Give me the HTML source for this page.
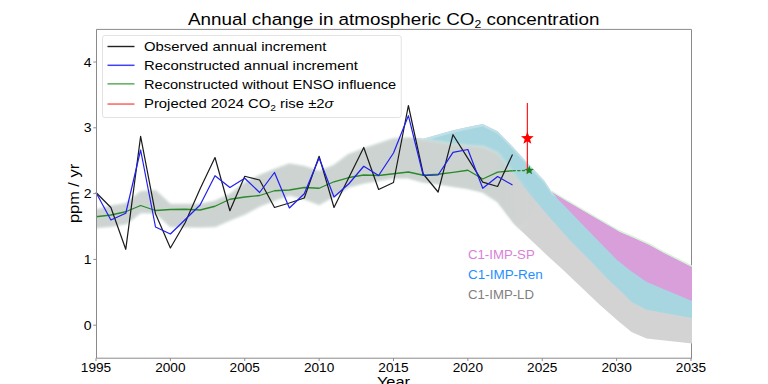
<!DOCTYPE html>
<html><head><meta charset="utf-8"><style>
html,body{margin:0;padding:0;background:#fff;width:768px;height:384px;overflow:hidden}
svg{display:block}
text{font-family:"Liberation Sans", sans-serif;fill:#000}
</style></head><body>
<svg width="768" height="384" viewBox="0 0 768 384">
<defs><linearGradient id="hg" gradientUnits="userSpaceOnUse" x1="495" y1="0" x2="545" y2="0"><stop offset="0" stop-color="#cdd3d1" stop-opacity="1"/><stop offset="1" stop-color="#cdd3d1" stop-opacity="0"/></linearGradient><linearGradient id="hg2" gradientUnits="userSpaceOnUse" x1="490" y1="0" x2="530" y2="0"><stop offset="0" stop-color="#dbe9e4" stop-opacity="1"/><stop offset="1" stop-color="#dbe9e4" stop-opacity="0"/></linearGradient><filter id="soft" x="-5%" y="-20%" width="110%" height="140%"><feGaussianBlur stdDeviation="0.9"/></filter><filter id="soft2" x="-10%" y="-10%" width="120%" height="120%"><feGaussianBlur stdDeviation="0.6"/></filter><clipPath id="axclip2"><rect x="96.6" y="29.3" width="595.4" height="329"/></clipPath><clipPath id="axclip"><rect x="96.6" y="29.3" width="596" height="329"/></clipPath></defs>
<rect x="0" y="0" width="768" height="384" fill="#fff"/>
<line x1="691.5" y1="29.5" x2="691.5" y2="358.5" stroke="#8a8a8a" stroke-width="1"/>
<g>
<g clip-path="url(#axclip2)"><g filter="url(#soft2)"><polygon points="408.38,138.00 423.25,138.75 438.12,134.40 453.00,130.30 467.88,127.00 482.75,124.10 497.62,131.30 512.50,146.50 527.50,163.00 544.20,180.40 551.70,192.00 565.00,200.00 592.00,215.80 620.00,232.00 634.00,238.00 649.50,245.00 664.00,253.00 692.00,267.00 700.00,270.00 700.00,344.40 692.00,343.50 646.50,338.50 631.50,332.00 617.00,320.00 600.00,305.00 561.00,268.00 548.00,256.30 519.30,229.00 514.20,224.00 497.50,201.70 484.00,192.50 467.88,188.50 453.00,186.25 438.12,183.75 423.25,182.00 408.38,178.00" fill="#d3d3d3"/>
<polygon points="408.38,138.00 423.25,138.75 438.12,134.40 453.00,130.30 467.88,127.00 482.75,124.10 497.62,131.30 512.50,146.50 527.50,163.00 544.20,180.40 551.70,192.00 565.00,200.00 592.00,215.80 620.00,232.00 634.00,238.00 649.50,245.00 664.00,253.00 692.00,267.00 700.00,270.00 700.00,319.50 692.00,318.00 646.50,309.75 631.50,302.00 623.75,294.00 608.75,280.00 592.00,262.50 571.25,241.70 552.50,220.80 540.00,206.25 511.00,172.00 467.88,165.00 408.38,178.00" fill="#bfe0e8"/>
<polygon points="408.38,140.50 423.25,141.25 438.12,136.90 453.00,132.80 467.88,129.50 482.75,126.60 497.62,133.80 512.50,149.00 527.50,165.50 544.20,182.90 551.70,194.50 565.00,202.50 592.00,218.30 620.00,234.50 634.00,240.50 649.50,247.50 664.00,255.50 692.00,269.50 700.00,272.50 700.00,319.50 692.00,318.00 646.50,309.75 631.50,302.00 623.75,294.00 608.75,280.00 592.00,262.50 571.25,241.70 552.50,220.80 540.00,206.25 511.00,172.00 467.88,165.00 408.38,178.00" fill="#a8d6e0"/>
<polygon points="551.70,192.00 565.00,200.00 592.00,215.80 620.00,232.00 634.00,238.00 649.50,245.00 664.00,253.00 692.00,267.00 700.00,270.00 700.00,304.40 692.00,301.00 646.70,282.00 631.50,271.50 617.00,260.00 598.00,240.60 578.80,220.80 558.75,200.00 551.70,192.00" fill="#d99fdb"/>
<polyline points="551.70,191.20 565.00,199.20 592.00,215.00 620.00,231.20 634.00,237.20 649.50,244.20 664.00,252.20 692.00,266.20 700.00,269.20" fill="none" stroke="#d6f2d6" stroke-width="1.3"/></g></g>
<g clip-path="url(#axclip)"><g filter="url(#soft)"><polygon points="88,210 96.00,210.00 110.88,206.00 125.75,203.75 140.62,191.75 155.50,190.75 170.38,204.50 185.25,204.50 200.12,204.50 215.00,201.25 229.88,194.50 244.75,183.00 259.62,175.50 274.50,169.50 289.38,164.00 304.25,166.50 319.12,171.50 334.00,165.50 348.88,154.50 363.75,148.75 378.62,143.75 393.50,138.75 408.38,138.00 423.25,140.00 438.12,142.00 453.00,144.50 467.88,146.00 482.75,147.00 497.62,153.50 512.50,172.00 540.00,206.00 519.30,229.00 512.50,221.70 497.62,201.50 482.75,192.00 467.88,188.50 453.00,186.25 438.12,183.75 423.25,182.00 408.38,178.00 393.50,178.00 378.62,180.50 363.75,183.00 348.88,187.00 334.00,196.00 319.12,204.50 304.25,198.75 289.38,195.00 274.50,200.25 259.62,206.00 244.75,214.00 229.88,220.00 215.00,226.50 200.12,227.00 185.25,226.75 170.38,226.50 155.50,213.00 140.62,212.50 125.75,223.75 110.88,226.25 96.00,227.50 88,227.5" fill="url(#hg)" stroke="url(#hg2)" stroke-width="2.2" paint-order="stroke fill" stroke-linejoin="round"/></g></g>
<polyline points="96.00,216.75 110.88,215.00 125.75,211.75 140.62,205.50 155.50,210.50 170.38,209.50 185.25,209.25 200.12,210.00 215.00,206.25 229.88,199.25 244.75,197.00 259.62,195.50 274.50,190.75 289.38,190.00 304.25,187.50 319.12,188.25 334.00,181.75 348.88,177.50 363.75,175.00 378.62,175.50 393.50,173.75 408.38,172.00 423.25,175.25 438.12,174.25 453.00,172.30 467.88,170.25 482.75,179.00 497.62,172.10 512.50,170.75" fill="none" stroke="#2a8a2a" stroke-width="1.3" stroke-linejoin="round"/>
<polyline points="96.00,192.50 110.88,207.50 125.75,249.30 140.62,136.30 155.50,213.80 170.38,248.00 185.25,222.50 200.12,188.75 215.00,157.50 229.88,210.75 244.75,176.25 259.62,180.00 274.50,207.50 289.38,203.00 304.25,198.00 319.12,156.25 334.00,207.50 348.88,177.50 363.75,147.50 378.62,189.50 393.50,182.50 408.38,105.50 423.25,174.00 438.12,192.00 453.00,134.70 467.88,158.40 482.75,182.10 497.62,186.50 512.50,154.40" fill="none" stroke="#1a1a1a" stroke-width="1.2" stroke-linejoin="round"/>
<polyline points="96.00,192.50 110.88,220.00 125.75,213.25 140.62,150.00 155.50,227.00 170.38,234.00 185.25,219.50 200.12,205.00 215.00,175.75 229.88,187.50 244.75,178.25 259.62,192.50 274.50,172.50 289.38,208.00 304.25,193.75 319.12,158.00 334.00,197.00 348.88,183.75 363.75,166.25 378.62,175.50 393.50,153.00 408.38,115.70 423.25,175.50 438.12,175.00 453.00,152.30 467.88,149.50 482.75,188.30 497.62,176.50 512.50,185.00" fill="none" stroke="#1f1ff0" stroke-width="1.2" stroke-linejoin="round"/>
<line x1="512.50" y1="170.75" x2="525.6" y2="170.5" stroke="#2a8a2a" stroke-width="1.3" stroke-dasharray="3.3,1.4"/>
<line x1="527.38" y1="103" x2="527.38" y2="173.2" stroke="#ff1a1a" stroke-width="1.2"/>
<polygon points="527.38,131.70 525.72,136.12 521.00,136.33 524.70,139.27 523.44,143.82 527.38,141.21 531.31,143.82 530.05,139.27 533.75,136.33 529.03,136.12" fill="#ff0000"/>
<polygon points="529.25,165.50 528.04,168.74 524.59,168.89 527.29,171.04 526.37,174.36 529.25,172.46 532.13,174.36 531.21,171.04 533.91,168.89 530.46,168.74" fill="#1a801a"/>
</g>
<path d="M691.5,29.4 H96.5 V358.2 H691.5" fill="none" stroke="#8a8a8a" stroke-width="1"/>
<line x1="93.3" y1="325.20" x2="96.3" y2="325.20" stroke="#8c8c8c" stroke-width="1"/>
<text transform="translate(91.5,329.80) scale(1.08,1)" font-size="13.0" text-anchor="end">0</text>
<line x1="93.3" y1="259.40" x2="96.3" y2="259.40" stroke="#8c8c8c" stroke-width="1"/>
<text transform="translate(91.5,264.00) scale(1.08,1)" font-size="13.0" text-anchor="end">1</text>
<line x1="93.3" y1="193.60" x2="96.3" y2="193.60" stroke="#8c8c8c" stroke-width="1"/>
<text transform="translate(91.5,198.20) scale(1.08,1)" font-size="13.0" text-anchor="end">2</text>
<line x1="93.3" y1="127.80" x2="96.3" y2="127.80" stroke="#8c8c8c" stroke-width="1"/>
<text transform="translate(91.5,132.40) scale(1.08,1)" font-size="13.0" text-anchor="end">3</text>
<line x1="93.3" y1="62.00" x2="96.3" y2="62.00" stroke="#8c8c8c" stroke-width="1"/>
<text transform="translate(91.5,66.60) scale(1.08,1)" font-size="13.0" text-anchor="end">4</text>
<line x1="96.00" y1="358.1" x2="96.00" y2="361.1" stroke="#8c8c8c" stroke-width="1"/>
<text transform="translate(96.00,371.7) scale(1.05,1)" font-size="13.0" text-anchor="middle">1995</text>
<line x1="170.38" y1="358.1" x2="170.38" y2="361.1" stroke="#8c8c8c" stroke-width="1"/>
<text transform="translate(170.38,371.7) scale(1.05,1)" font-size="13.0" text-anchor="middle">2000</text>
<line x1="244.75" y1="358.1" x2="244.75" y2="361.1" stroke="#8c8c8c" stroke-width="1"/>
<text transform="translate(244.75,371.7) scale(1.05,1)" font-size="13.0" text-anchor="middle">2005</text>
<line x1="319.12" y1="358.1" x2="319.12" y2="361.1" stroke="#8c8c8c" stroke-width="1"/>
<text transform="translate(319.12,371.7) scale(1.05,1)" font-size="13.0" text-anchor="middle">2010</text>
<line x1="393.50" y1="358.1" x2="393.50" y2="361.1" stroke="#8c8c8c" stroke-width="1"/>
<text transform="translate(393.50,371.7) scale(1.05,1)" font-size="13.0" text-anchor="middle">2015</text>
<line x1="467.88" y1="358.1" x2="467.88" y2="361.1" stroke="#8c8c8c" stroke-width="1"/>
<text transform="translate(467.88,371.7) scale(1.05,1)" font-size="13.0" text-anchor="middle">2020</text>
<line x1="542.25" y1="358.1" x2="542.25" y2="361.1" stroke="#8c8c8c" stroke-width="1"/>
<text transform="translate(542.25,371.7) scale(1.05,1)" font-size="13.0" text-anchor="middle">2025</text>
<line x1="616.62" y1="358.1" x2="616.62" y2="361.1" stroke="#8c8c8c" stroke-width="1"/>
<text transform="translate(616.62,371.7) scale(1.05,1)" font-size="13.0" text-anchor="middle">2030</text>
<line x1="691.00" y1="358.1" x2="691.00" y2="361.1" stroke="#8c8c8c" stroke-width="1"/>
<text transform="translate(691.00,371.7) scale(1.05,1)" font-size="13.0" text-anchor="middle">2035</text>
<text transform="translate(188.0,25.0) scale(1.082,1)" font-size="17.4" >Annual change in atmospheric CO<tspan font-size="11.3" dy="2.7">2</tspan><tspan dy="-2.7"> concentration</tspan></text>
<text transform="translate(393.5,386.6) scale(1.08,1)" font-size="15.2" text-anchor="middle">Year</text>
<text transform="translate(78.5,193.5) rotate(-90) scale(1.08,1)" font-size="15.2" text-anchor="middle">ppm / yr</text>
<rect x="102.5" y="35.5" width="298.75" height="82" rx="2.5" ry="2.5" fill="#fff" fill-opacity="0.8" stroke="#e3e3e3" stroke-width="1"/>
<line x1="107.5" y1="46.5" x2="134.5" y2="46.5" stroke="#222" stroke-width="1.4"/>
<line x1="107.5" y1="65.3" x2="134.5" y2="65.3" stroke="#4040ff" stroke-width="1.5"/>
<line x1="107.5" y1="83.85" x2="134.5" y2="83.85" stroke="#5aae5a" stroke-width="1.5"/>
<line x1="107.5" y1="104.05" x2="134.5" y2="104.05" stroke="#ff6060" stroke-width="1.5"/>
<text transform="translate(144.0,51.1) scale(1.134,1)" font-size="13.1" >Observed annual increment</text>
<text transform="translate(144.0,69.9) scale(1.134,1)" font-size="13.1" >Reconstructed annual increment</text>
<text transform="translate(144.0,88.6) scale(1.115,1)" font-size="13.1" >Reconstructed without ENSO influence</text>
<text transform="translate(144.0,108.3) scale(1.134,1)" font-size="13.1" >Projected 2024 CO<tspan font-size="9.0" dy="2.5">2</tspan><tspan dy="-2.5"> rise ±2</tspan><tspan font-style="italic">σ</tspan></text>
<text transform="translate(468.0,259.1) scale(1.0,1)" font-size="13.2" style="fill:#da80d8">C1-IMP-SP</text>
<text transform="translate(468.0,278.8) scale(1.02,1)" font-size="13.2" style="fill:#1f8fff">C1-IMP-Ren</text>
<text transform="translate(468.0,298.65) scale(1.0,1)" font-size="13.2" style="fill:#808080">C1-IMP-LD</text>
</svg>
</body></html>
